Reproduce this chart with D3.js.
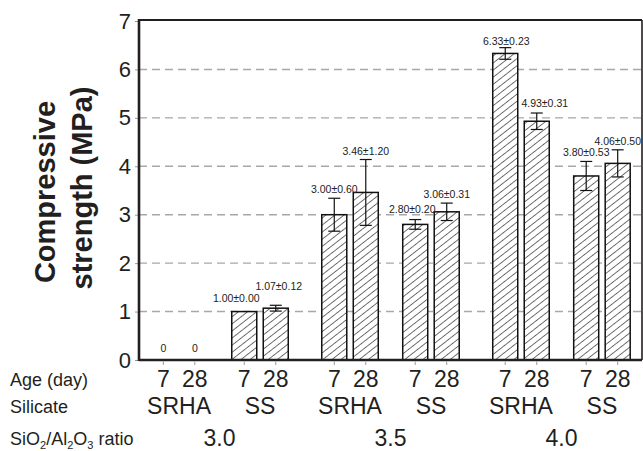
<!DOCTYPE html>
<html>
<head>
<meta charset="utf-8">
<script src="https://cdn.jsdelivr.net/npm/d3@7"></script>
<style>
  body { margin: 0; background: #fff; }
  svg { display: block; font-family: "Liberation Sans", Arial, sans-serif; }
</style>
</head>
<body>
<svg id="chart" width="643" height="451"></svg>
<script>
// data, in drawing order: ratio -> silicate -> age
const ratios = ["3.0", "3.5", "4.0"];
const silicates = ["SRHA", "SS"];
const ages = ["7", "28"];
const strength = [0, 0, 1.00, 1.07, 3.00, 3.46, 2.80, 3.06, 6.33, 4.93, 3.80, 4.06];
const sd = [0, 0, 0.00, 0.12, 0.60, 1.20, 0.20, 0.31, 0.23, 0.31, 0.53, 0.50];
// half-length of the whiskers as they are drawn in the figure
const whisker = [0, 0, 0, 0.06, 0.34, 0.68, 0.10, 0.18, 0.12, 0.17, 0.30, 0.28];
const yTicks = [0, 1, 2, 3, 4, 5, 6, 7];

const rows = [];
ratios.forEach(r => silicates.forEach(s => ages.forEach(a => rows.push({ratio: r, silicate: s, age: a}))));
rows.forEach((d, i) => { d.value = strength[i]; d.sd = sd[i]; d.err = whisker[i]; d.i = i; });

// small hand offsets for a few value labels (dx, extra gap)
const labelNudge = {2: [-8, 5], 3: [3, 10], 6: [-3, 2], 8: [1, -2], 9: [8, 1]};

const plotL = 139, plotR = 642, plotT = 20, plotB = 360;
const svg = d3.select("#chart");

const y = d3.scaleLinear().domain([0, 7]).range([plotB, 21]);
const x0 = d3.scaleBand().domain(ratios).range([plotL, plotR]).paddingInner(0.196).paddingOuter(0.069);
const x1 = d3.scaleBand().domain(silicates).range([0, x0.bandwidth()]).paddingInner(0.302);
const x2 = d3.scaleBand().domain(ages).range([0, x1.bandwidth()]).paddingInner(0.206);
const barX = d => x0(d.ratio) + x1(d.silicate) + x2(d.age);
const barC = d => barX(d) + x2.bandwidth() / 2;

// hatch pattern
const pat = svg.append("defs").append("pattern")
    .attr("id", "hatch")
    .attr("patternUnits", "userSpaceOnUse")
    .attr("width", 5.6).attr("height", 10)
    .attr("patternTransform", "rotate(52)");
pat.append("rect").attr("width", 5.6).attr("height", 10).attr("fill", "#fff");
pat.append("line").attr("x1", 0).attr("y1", 0).attr("x2", 0).attr("y2", 10)
    .attr("stroke", "#111").attr("stroke-width", 1.2);

// grid
svg.append("g").selectAll("line")
    .data(yTicks.filter(t => t > 0 && t < 7))
    .enter()
    .append("line")
    .attr("x1", plotL).attr("x2", plotR)
    .attr("y1", d => y(d)).attr("y2", d => y(d))
    .attr("stroke", "#a8a8a8")
    .attr("stroke-width", 1.4)
    .attr("stroke-dasharray", "8,5");

// y axis ticks + labels
const yAxis = svg.append("g")
    .attr("transform", `translate(${plotL},0)`)
    .call(d3.axisLeft(y).tickValues(yTicks).tickSize(4).tickPadding(4).tickFormat(d3.format("d")));
yAxis.select(".domain").remove();
yAxis.selectAll(".tick line").attr("stroke", "#999").attr("stroke-width", 1);
yAxis.selectAll(".tick text")
    .attr("font-size", 22)
    .attr("font-family", "Liberation Sans, Arial, sans-serif")
    .attr("fill", "#231f20");

// bars
svg.append("g").selectAll("rect")
    .data(rows.filter(d => d.value > 0))
    .enter()
    .append("rect")
    .attr("x", barX)
    .attr("y", d => y(d.value))
    .attr("width", x2.bandwidth())
    .attr("height", d => y(0) - y(d.value))
    .attr("fill", "url(#hatch)")
    .attr("stroke", "#111")
    .attr("stroke-width", 1.5);

// error bars
const eb = svg.append("g").selectAll("g")
    .data(rows.filter(d => d.err > 0))
    .enter()
    .append("g")
    .attr("stroke", "#111")
    .attr("stroke-width", 1.2);
eb.append("line")
    .attr("x1", barC).attr("x2", barC)
    .attr("y1", d => y(d.value + d.err)).attr("y2", d => y(d.value - d.err));
eb.append("line")
    .attr("x1", d => barC(d) - 6).attr("x2", d => barC(d) + 6)
    .attr("y1", d => y(d.value + d.err)).attr("y2", d => y(d.value + d.err));
eb.append("line")
    .attr("x1", d => barC(d) - 6).attr("x2", d => barC(d) + 6)
    .attr("y1", d => y(d.value - d.err)).attr("y2", d => y(d.value - d.err));

// value labels
svg.append("g").selectAll("text")
    .data(rows)
    .enter()
    .append("text")
    .attr("x", d => barC(d) + (labelNudge[d.i] ? labelNudge[d.i][0] : 0))
    .attr("y", d => {
        if (d.value === 0) return y(0) - 8;
        const gap = 5 + (labelNudge[d.i] ? labelNudge[d.i][1] : 0);
        return y(d.value + d.err) - gap;
    })
    .attr("text-anchor", "middle")
    .attr("font-size", 10.5)
    .attr("fill", "#222")
    .text(d => d.value === 0 ? "0" : d3.format(".2f")(d.value) + "\u00b1" + d3.format(".2f")(d.sd));

// frame
svg.append("line").attr("x1", plotL).attr("x2", plotR).attr("y1", plotT).attr("y2", plotT)
    .attr("stroke", "#231f20").attr("stroke-width", 2);
svg.append("line").attr("x1", plotR).attr("x2", plotR).attr("y1", plotT).attr("y2", plotB)
    .attr("stroke", "#231f20").attr("stroke-width", 1.6);
svg.append("line").attr("x1", plotL).attr("x2", plotL).attr("y1", plotT - 1).attr("y2", plotB + 1)
    .attr("stroke", "#231f20").attr("stroke-width", 2.6);
svg.append("line").attr("x1", plotL).attr("x2", plotR).attr("y1", plotB).attr("y2", plotB)
    .attr("stroke", "#231f20").attr("stroke-width", 2.4);

// x ticks
svg.append("g").selectAll("line")
    .data(rows)
    .enter()
    .append("line")
    .attr("x1", barC).attr("x2", barC)
    .attr("y1", plotB + 1.5).attr("y2", plotB + 5)
    .attr("stroke", "#999");

// age labels
svg.append("g").selectAll("text")
    .data(rows)
    .enter()
    .append("text")
    .attr("x", barC)
    .attr("y", 387)
    .attr("text-anchor", "middle")
    .attr("font-size", 23)
    .attr("fill", "#231f20")
    .text(d => d.age);

// silicate labels
const silRows = [];
ratios.forEach(r => silicates.forEach(s => silRows.push({ratio: r, silicate: s})));
svg.append("g").selectAll("text")
    .data(silRows)
    .enter()
    .append("text")
    .attr("x", d => x0(d.ratio) + x1(d.silicate) + x1.bandwidth() / 2)
    .attr("y", 414)
    .attr("text-anchor", "middle")
    .attr("font-size", 23)
    .attr("fill", "#231f20")
    .text(d => d.silicate);

// ratio labels
svg.append("g").selectAll("text")
    .data(ratios)
    .enter()
    .append("text")
    .attr("x", d => x0(d) + x0.bandwidth() / 2)
    .attr("y", 446)
    .attr("text-anchor", "middle")
    .attr("font-size", 23)
    .attr("fill", "#231f20")
    .text(d => d);

// row headers
const head = svg.append("g").attr("font-size", 18).attr("fill", "#231f20");
head.append("text").attr("x", 10).attr("y", 386).text("Age (day)");
head.append("text").attr("x", 10).attr("y", 413).text("Silicate");
const rt = head.append("text").attr("x", 10).attr("y", 445);
rt.append("tspan").text("SiO");
rt.append("tspan").attr("font-size", 11).attr("dy", 4).text("2");
rt.append("tspan").attr("dy", -4).text("/Al");
rt.append("tspan").attr("font-size", 11).attr("dy", 4).text("2");
rt.append("tspan").attr("dy", -4).text("O");
rt.append("tspan").attr("font-size", 11).attr("dy", 4).text("3");
rt.append("tspan").attr("dy", -4).text(" ratio");

// y title
const yt = svg.append("g")
    .attr("font-size", 29)
    .attr("font-weight", "bold")
    .attr("fill", "#231f20")
    .attr("text-anchor", "middle");
yt.append("text").attr("transform", "translate(55,192) rotate(-90)").text("Compressive");
yt.append("text").attr("transform", "translate(92,188) rotate(-90)").text("strength (MPa)");
</script>
</body>
</html>
